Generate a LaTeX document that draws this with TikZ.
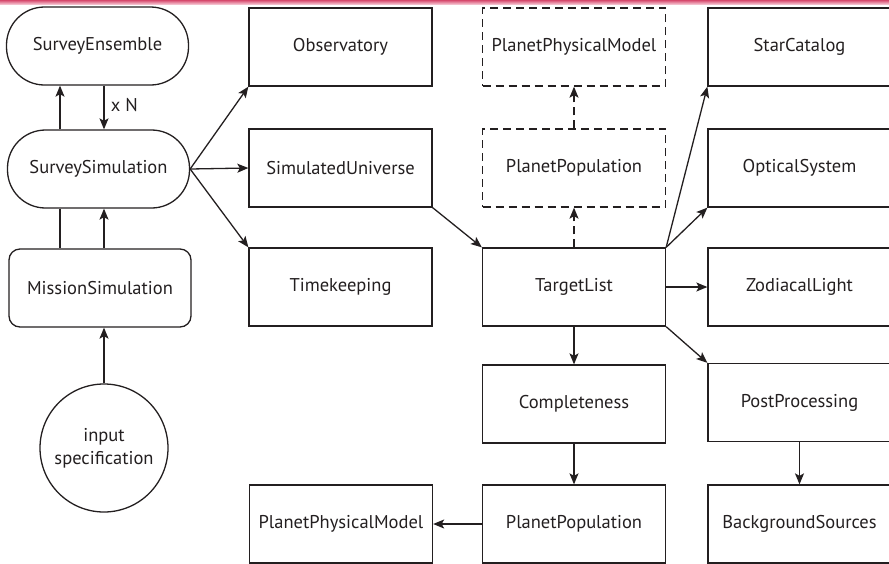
\documentclass[tikz,border=0pt]{standalone}
\usepackage{fontspec}
\setmainfont{PT Sans}
\usetikzlibrary{arrows.meta}
\definecolor{ink}{RGB}{35,31,32}
\definecolor{bandtop}{RGB}{214,72,108}
\definecolor{bandbot}{RGB}{244,190,204}
\begin{document}
\begin{tikzpicture}[x=1pt,y=-1pt,
  every node/.style={font=\fontsize{18.5}{23}\selectfont, text=ink},
  box/.style={draw=ink, line width=1.3pt, minimum width=183pt, minimum height=78pt, inner sep=0pt},
  dbox/.style={box, dash pattern=on 8pt off 5pt},
  pill/.style={box, rounded corners=38pt, minimum width=182pt},
  rbox/.style={box, rounded corners=11pt, minimum width=182pt},
  arr/.style={draw=ink, line width=1.3pt, -{Stealth[length=11pt,width=9pt,inset=2.5pt]}},
  plain/.style={draw=ink, line width=1.3pt},
  darr/.style={arr, dash pattern=on 8pt off 5pt}]
\useasboundingbox (0,0) rectangle (889,563);
\shade[top color=bandtop, bottom color=bandbot] (0,0) rectangle (889,4);
% left column
\node[pill] (SE) at (97.5,46) {SurveyEnsemble};
\node[pill] (SS) at (98.5,169) {SurveySimulation};
\node[rbox] (MS) at (100,288) {MissionSimulation};
\node[draw=ink, line width=1.3pt, circle, minimum size=128pt, inner sep=0pt, align=center] (IN) at (104,448) {input\\specification};
% second column
\node[box] (OB) at (340.5,47) {Observatory};
\node[box] (SU) at (340.5,168) {SimulatedUniverse};
\node[box] (TK) at (340.5,287) {Timekeeping};
\node[box] (PMb) at (341,524) {PlanetPhysicalModel};
% third column
\node[dbox] (PMd) at (574,47) {PlanetPhysicalModel};
\node[dbox] (PPd) at (574,168) {PlanetPopulation};
\node[box] (TL) at (574,287) {TargetList};
\node[box] (CO) at (574,404) {Completeness};
\node[box] (PPb) at (574,524) {PlanetPopulation};
% fourth column
\node[box] (SC) at (799.5,47) {StarCatalog};
\node[box] (OS) at (799.5,168) {OpticalSystem};
\node[box] (ZL) at (799.5,287) {ZodiacalLight};
\node[box] (PO) at (799.5,402.5) {PostProcessing};
\node[box] (BS) at (799.5,524) {BackgroundSources};
% connectors left
\coordinate (xl) at (60,0);
\coordinate (xr) at (104,0);
\draw[arr] (SS.north -| xl) -- (SE.south -| xl);
\draw[arr] (SE.south -| xr) -- node[right=3pt, pos=0.45] (XN) {x N} (SS.north -| xr);
\draw[plain] (SS.south -| xl) -- (MS.north -| xl);
\draw[arr] (MS.north -| xr) -- (SS.south -| xr);
\draw[arr] (IN.north) -- (MS.south -| IN.north);
% from SurveySimulation
\draw[arr] (SS.east) -- (OB.south west);
\draw[arr] (SS.east) -- (SU.west);
\draw[arr] (SS.east) -- (TK.north west);
\draw[arr] (SU.south east) -- (TL.north west);
% from TargetList
\draw[darr] (TL.north) -- (PPd.south);
\draw[darr] (PPd.north) -- (PMd.south);
\draw[arr] (TL.north east) -- (SC.south west);
\draw[arr] (TL.north east) -- (OS.south west);
\draw[arr] (TL.east) -- (ZL.west);
\draw[arr] (TL.south east) -- (PO.north west);
\draw[arr] (TL.south) -- (CO.north);
\draw[arr] (CO.south) -- (PPb.north);
\draw[arr] (PPb.west) -- (PMb.east);
\draw[arr] (PO.south) -- (BS.north);
\end{tikzpicture}
\end{document}
